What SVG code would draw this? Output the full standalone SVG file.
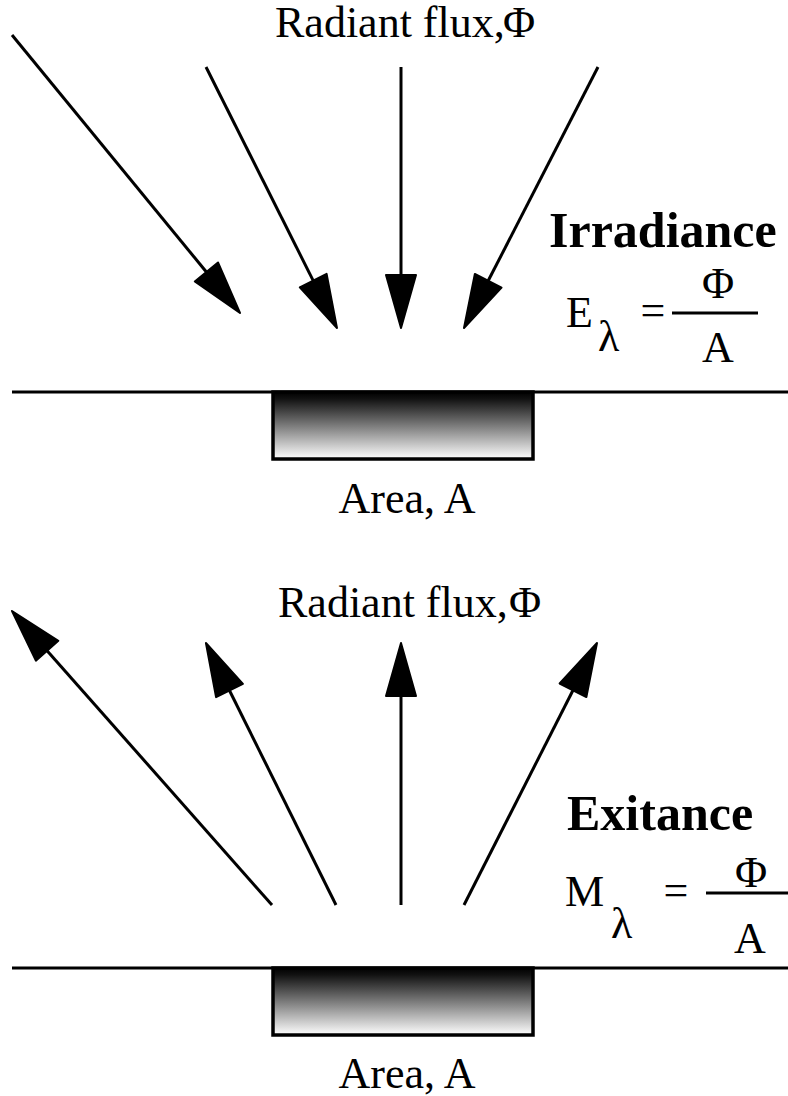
<svg xmlns="http://www.w3.org/2000/svg" width="788" height="1096" viewBox="0 0 788 1096">
<style>
.t{font-family:"Liberation Serif","Times New Roman",serif;font-size:44px;fill:#000}
.b{font-family:"Liberation Serif","Times New Roman",serif;font-size:50px;font-weight:bold;fill:#000}
.ln{stroke:#000;stroke-width:3;fill:none}
.ar{stroke:#000;stroke-width:3;fill:none;marker-end:url(#head)}
.area{fill:url(#grad);stroke:#000;stroke-width:3.5}
</style>
<defs>
<marker id="head" markerUnits="userSpaceOnUse" markerWidth="60" markerHeight="40" refX="0" refY="0" viewBox="-2 -20 60 40" orient="auto" overflow="visible">
<path d="M0,-15 L53,0 L0,15 Z" fill="#000" stroke="#000" stroke-width="2" stroke-linejoin="round"/>
</marker>
<linearGradient id="grad" x1="0" y1="0" x2="0" y2="1">
<stop offset="0" stop-color="#000"/>
<stop offset="0.1" stop-color="#111"/>
<stop offset="1" stop-color="#fff"/>
</linearGradient>
</defs>

<g id="irradiance">
<g id="surface-top">
<line class="ln" x1="12" y1="392" x2="788" y2="392"/>
<rect class="area" x="273" y="392" width="260" height="67"/>
</g>
<text id="flux-top" class="t" x="275" y="37">Radiant flux,<tspan x="503">Φ</tspan></text>
<text id="area-top" class="t" x="407" y="513" text-anchor="middle">Area, A</text>
<text id="title-top" class="b" x="549" y="247">Irradiance</text>
<g id="eq-top">
<text class="t" x="566" y="327">E</text>
<text class="t" x="598" y="351">λ</text>
<text class="t" x="653" y="325" text-anchor="middle">=</text>
<line class="ln" x1="672" y1="313" x2="758" y2="313"/>
<text class="t" x="718" y="298" text-anchor="middle">Φ</text>
<text class="t" x="718" y="362" text-anchor="middle">A</text>
</g>
</g>

<g id="exitance">
<g id="surface-bottom">
<line class="ln" x1="12" y1="968" x2="788" y2="968"/>
<rect class="area" x="273" y="968" width="260" height="67"/>
</g>
<text id="flux-bottom" class="t" x="278" y="617">Radiant flux,<tspan x="509">Φ</tspan></text>
<text id="area-bottom" class="t" x="407" y="1088" text-anchor="middle">Area, A</text>
<text id="title-bottom" class="b" x="567" y="830">Exitance</text>
<g id="eq-bottom">
<text class="t" x="565" y="906">M</text>
<text class="t" x="611" y="938">λ</text>
<text class="t" x="676" y="905" text-anchor="middle">=</text>
<line class="ln" x1="706" y1="893" x2="788" y2="893"/>
<text class="t" x="751" y="887" text-anchor="middle">Φ</text>
<text class="t" x="750" y="953" text-anchor="middle">A</text>
</g>
</g>

<g id="connectors">
<line class="ar" x1="12" y1="35" x2="206.4" y2="272"/>
<line class="ar" x1="206" y1="67" x2="313.2" y2="280.6"/>
<line class="ar" x1="401" y1="67" x2="401" y2="275"/>
<line class="ar" x1="598" y1="67" x2="488.2" y2="280.8"/>
<line class="ar" x1="272" y1="905" x2="47.1" y2="650.7"/>
<line class="ar" x1="336" y1="905" x2="229.5" y2="690.5"/>
<line class="ar" x1="401" y1="905" x2="401" y2="696"/>
<line class="ar" x1="464" y1="905" x2="573" y2="690.3"/>
</g>
</svg>
